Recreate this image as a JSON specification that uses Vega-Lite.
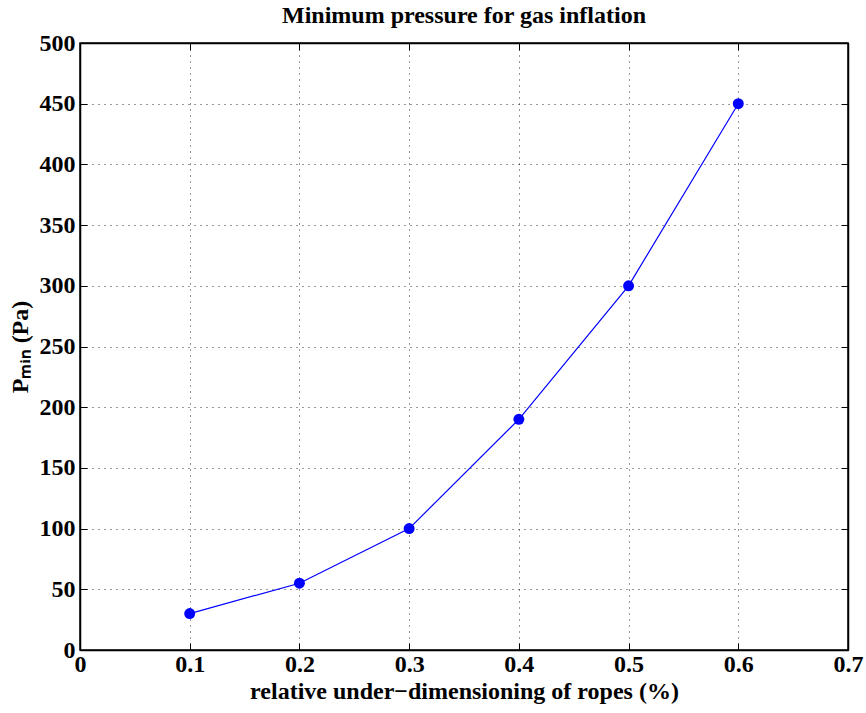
{
  "$schema": "https://vega.github.io/schema/vega-lite/v6.json",
  "autosize": "none",
  "width": 768,
  "height": 607,
  "padding": {"left": 80, "top": 43, "right": 18, "bottom": 63},
  "background": "white",
  "title": {"text": "Minimum pressure for gas inflation", "font": "Liberation Serif", "fontSize": 24, "fontWeight": "bold", "color": "black", "offset": 3},
  "config": {
    "view": {"stroke": "black", "strokeWidth": 1.5},
    "axis": {
      "labelFont": "Liberation Serif", "labelFontSize": 24, "labelFontWeight": "bold", "labelColor": "black",
      "titleFont": "Liberation Serif", "titleFontSize": 24, "titleFontWeight": "bold", "titleColor": "black",
      "domainColor": "black", "domainWidth": 1.5,
      "tickColor": "black", "tickSize": -7, "tickWidth": 1,
      "grid": true, "gridColor": "black", "gridDash": [1, 5], "gridOpacity": 0.8, "gridWidth": 1
    }
  },
  "data": {"values": [
    {"x": 0.1, "p": 30},
    {"x": 0.2, "p": 55},
    {"x": 0.3, "p": 100},
    {"x": 0.4, "p": 190},
    {"x": 0.5, "p": 300},
    {"x": 0.6, "p": 450}
  ]},
  "resolve": {"axis": {"x": "independent", "y": "independent"}},
  "layer": [
    {
      "mark": {"type": "line", "color": "#0000ff", "strokeWidth": 1.2},
      "encoding": {
        "x": {"field": "x", "type": "quantitative", "scale": {"domain": [0, 0.7], "nice": false},
          "axis": {"values": [0, 0.1, 0.2, 0.3, 0.4, 0.5, 0.6, 0.7], "format": ".1~f", "labelPadding": 9, "title": "relative under\u2212dimensioning of ropes (%)", "titlePadding": 3, "labelFlush": false}},
        "y": {"field": "p", "type": "quantitative", "scale": {"domain": [0, 500], "nice": false},
          "axis": {"values": [0, 50, 100, 150, 200, 250, 300, 350, 400, 450, 500], "labelPadding": 12, "title": "P\u2098\u1d62\u2099 (Pa)", "titlePadding": 7, "labelFlush": false}}
      }
    },
    {
      "mark": {"type": "point", "filled": true, "color": "#0000ff", "size": 120, "opacity": 1},
      "encoding": {
        "x": {"field": "x", "type": "quantitative", "axis": {"orient": "top", "values": [0, 0.1, 0.2, 0.3, 0.4, 0.5, 0.6, 0.7], "labels": false, "title": null, "grid": false}},
        "y": {"field": "p", "type": "quantitative", "axis": {"orient": "right", "values": [0, 50, 100, 150, 200, 250, 300, 350, 400, 450, 500], "labels": false, "title": null, "grid": false}}
      }
    }
  ]
}
